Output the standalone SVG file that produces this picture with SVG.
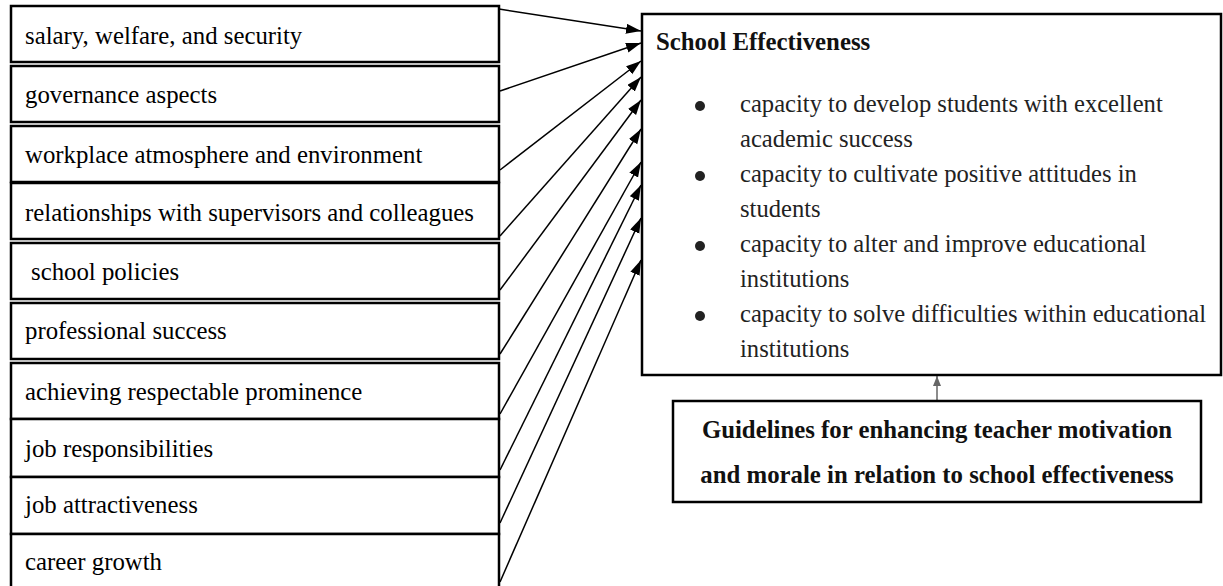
<svg xmlns="http://www.w3.org/2000/svg" width="1223" height="586" viewBox="0 0 1223 586">
<style>
.box{fill:#fff;stroke:#000;stroke-width:2.5}
.lbl{font-family:"Liberation Serif","Times New Roman",serif;font-size:24.8px;fill:#000}
.bul{font-family:"Liberation Serif","Times New Roman",serif;font-size:24.6px;fill:#222}
.bold{font-family:"Liberation Serif","Times New Roman",serif;font-size:24.8px;font-weight:bold;fill:#111}
.con{stroke:#000;stroke-width:1.5;fill:none;marker-end:url(#ah)}
</style>
<defs>
<marker id="ah" markerUnits="userSpaceOnUse" markerWidth="16" markerHeight="12" refX="15" refY="5" orient="auto">
<path d="M0,0 L15,5 L0,10 Z" fill="#000"/>
</marker>
<marker id="ahg" markerUnits="userSpaceOnUse" markerWidth="12" markerHeight="10" refX="10" refY="4" orient="auto">
<path d="M0,0 L10,4 L0,8 Z" fill="#666"/>
</marker>
</defs>
<rect width="1223" height="586" fill="#fff"/>
<g id="connectors">
<line class="con" x1="499" y1="9" x2="641" y2="31"/>
<line class="con" x1="500" y1="91" x2="641" y2="43"/>
<line class="con" x1="500" y1="170" x2="641" y2="61"/>
<line class="con" x1="500" y1="236" x2="641" y2="77"/>
<line class="con" x1="500" y1="290" x2="641" y2="100"/>
<line class="con" x1="500" y1="354" x2="641" y2="129"/>
<line class="con" x1="500" y1="414" x2="641" y2="162"/>
<line class="con" x1="500" y1="470" x2="641" y2="185"/>
<line class="con" x1="500" y1="523" x2="641" y2="218"/>
<line class="con" x1="500" y1="582" x2="641" y2="260"/>
<line x1="937" y1="401" x2="937" y2="376" stroke="#666" stroke-width="1.5" marker-end="url(#ahg)"/>
</g>
<g id="n1"><rect class="box" x="11" y="6" width="488" height="56"/><text class="lbl" x="25" y="44">salary, welfare, and security</text></g>
<g id="n2"><rect class="box" x="11" y="66" width="488" height="56"/><text class="lbl" x="25" y="103">governance aspects</text></g>
<g id="n3"><rect class="box" x="11" y="126" width="488" height="56"/><text class="lbl" x="25" y="163">workplace atmosphere and environment</text></g>
<g id="n4"><rect class="box" x="11" y="183" width="488" height="56"/><text class="lbl" x="25" y="221">relationships with supervisors and colleagues</text></g>
<g id="n5"><rect class="box" x="11" y="243" width="488" height="56"/><text class="lbl" x="31" y="280">school policies</text></g>
<g id="n6"><rect class="box" x="11" y="303" width="488" height="56"/><text class="lbl" x="25" y="339">professional success</text></g>
<g id="n7"><rect class="box" x="11" y="363" width="488" height="56"/><text class="lbl" x="25" y="400">achieving respectable prominence</text></g>
<g id="n8"><rect class="box" x="11" y="419" width="488" height="58"/><text class="lbl" x="25" y="457">job responsibilities</text></g>
<g id="n9"><rect class="box" x="11" y="477" width="488" height="57"/><text class="lbl" x="25" y="513">job attractiveness</text></g>
<g id="n10"><rect class="box" x="11" y="534" width="488" height="60"/><text class="lbl" x="25" y="570">career growth</text></g>
<g id="school-effectiveness">
<rect class="box" x="642" y="14" width="579" height="361"/>
<text class="bold" x="656" y="50">School Effectiveness</text>
<circle cx="700" cy="106" r="5" fill="#222"/>
<circle cx="700" cy="176" r="5" fill="#222"/>
<circle cx="700" cy="246" r="5" fill="#222"/>
<circle cx="700" cy="316" r="5" fill="#222"/>
<text class="bul" x="740" y="112">capacity to develop students with excellent</text>
<text class="bul" x="740" y="147">academic success</text>
<text class="bul" x="740" y="182">capacity to cultivate positive attitudes in</text>
<text class="bul" x="740" y="217">students</text>
<text class="bul" x="740" y="252">capacity to alter and improve educational</text>
<text class="bul" x="740" y="287">institutions</text>
<text class="bul" x="740" y="322">capacity to solve difficulties within educational</text>
<text class="bul" x="740" y="357">institutions</text>
</g>
<g id="guidelines">
<rect class="box" x="673" y="401" width="528" height="101"/>
<text class="bold" x="937" y="438" text-anchor="middle">Guidelines for enhancing teacher motivation</text>
<text class="bold" x="937" y="483" text-anchor="middle">and morale in relation to school effectiveness</text>
</g>
</svg>
